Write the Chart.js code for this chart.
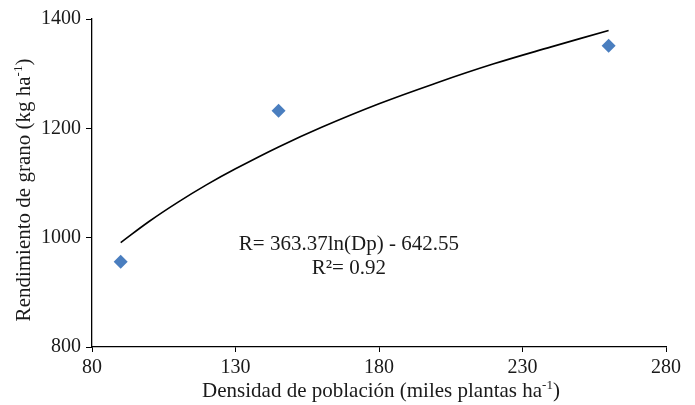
<!DOCTYPE html>
<html>
<head>
<meta charset="utf-8">
<script src="https://cdn.jsdelivr.net/npm/chart.js@4.4.0/dist/chart.umd.min.js"></script>
<style>
  html, body { margin: 0; padding: 0; background: #fff; }
  #wrap { width: 695px; height: 405px; }
</style>
</head>
<body>
<div id="wrap"><canvas id="chart" width="695" height="405"></canvas></div>
<script>
// observed points
const densidad = [90, 145, 260];
const rendimiento = [956, 1232, 1351];

// logarithmic trend line
const curvaX = [90, 100, 110, 120, 130, 145, 160, 180, 200, 220, 240, 260];
const curvaY = [991, 1030, 1065, 1097, 1126, 1166, 1202, 1245, 1283, 1318, 1349, 1379];

const xTicks = [80, 130, 180, 230, 280];
const yTicks = [800, 1000, 1200, 1400];

const ecuacion = ['R= 363.37ln(Dp) - 642.55', 'R²= 0.92'];

const FONT = '"Liberation Serif", "Times New Roman", serif';
const INK = '#1a1a1a';

// label with a small "-1" superscript before the closing bracket, centred on cx
function drawSup(ctx, main, sup, tail, size, cx, cy) {
  const small = Math.round(size * 0.62);
  ctx.font = size + 'px ' + FONT;
  const w1 = ctx.measureText(main).width;
  const w3 = ctx.measureText(tail).width;
  ctx.font = small + 'px ' + FONT;
  const w2 = ctx.measureText(sup).width;
  let x = cx - (w1 + w2 + w3) / 2;
  ctx.textBaseline = 'alphabetic';
  ctx.textAlign = 'left';
  ctx.font = size + 'px ' + FONT;
  ctx.fillText(main, x, cy);
  x += w1;
  ctx.font = small + 'px ' + FONT;
  ctx.fillText(sup, x, cy - size * 0.4);
  x += w2;
  ctx.font = size + 'px ' + FONT;
  ctx.fillText(tail, x, cy);
}

const textos = {
  id: 'textos',
  afterDraw(chart) {
    const ctx = chart.ctx;
    const xs = chart.scales.x, ys = chart.scales.y;
    ctx.save();
    ctx.fillStyle = INK;
    // equation
    ctx.font = '21px ' + FONT;
    ctx.textAlign = 'center';
    ctx.textBaseline = 'alphabetic';
    ctx.fillText(ecuacion[0], xs.getPixelForValue(169.5), ys.getPixelForValue(977));
    ctx.fillText(ecuacion[1], xs.getPixelForValue(169.5), ys.getPixelForValue(933));
    // x title
    drawSup(ctx, 'Densidad de población (miles plantas ha', '-1', ')', 21, 381, 397);
    // y title
    ctx.translate(30, 190);
    ctx.rotate(-Math.PI / 2);
    drawSup(ctx, 'Rendimiento de grano (kg ha', '-1', ')', 21, 0, 0);
    ctx.restore();
  }
};

new Chart(document.getElementById('chart').getContext('2d'), {
  type: 'scatter',
  data: {
    datasets: [
      {
        label: 'Rendimiento',
        data: densidad.map((x, i) => ({ x, y: rendimiento[i] })),
        pointStyle: 'rectRot',
        pointRadius: 7,
        backgroundColor: '#4a7ebf',
        borderColor: '#4a7ebf',
        borderWidth: 0,
        order: 1
      },
      {
        label: 'Tendencia',
        type: 'line',
        data: curvaX.map((x, i) => ({ x, y: curvaY[i] })),
        borderColor: '#000',
        borderWidth: 1.6,
        pointRadius: 0,
        fill: false,
        tension: 0.4,
        order: 2
      }
    ]
  },
  options: {
    responsive: false,
    animation: false,
    layout: { padding: { top: 19, right: 29, left: 0, bottom: 0 } },
    plugins: { legend: { display: false }, tooltip: { enabled: false } },
    scales: {
      x: {
        type: 'linear',
        min: 80, max: 280,
        afterBuildTicks: s => { s.ticks = xTicks.map(v => ({ value: v })); },
        afterFit: s => { s.height = 58; },
        ticks: { color: INK, font: { family: FONT, size: 20 }, padding: 4, callback: v => String(v) },
        grid: { drawOnChartArea: false, drawTicks: true, tickLength: 5, color: '#000' },
        border: { color: '#000', width: 1.3 }
      },
      y: {
        type: 'linear',
        min: 800, max: 1400,
        afterBuildTicks: s => { s.ticks = yTicks.map(v => ({ value: v })); },
        afterFit: s => { s.width = 92; },
        ticks: { color: INK, font: { family: FONT, size: 20 }, padding: 5, callback: v => String(v) },
        grid: { drawOnChartArea: false, drawTicks: true, tickLength: 6, color: '#000' },
        border: { color: '#000', width: 1.3 }
      }
    }
  },
  plugins: [textos]
});
</script>
</body>
</html>
